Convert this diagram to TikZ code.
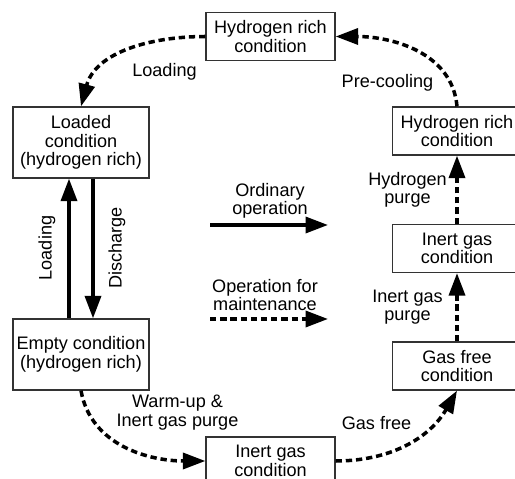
\documentclass[tikz,border=0pt]{standalone}
\usepackage{fontspec}
\setmainfont{Liberation Sans}
\usetikzlibrary{arrows.meta}

\tikzset{
  cond/.style={draw=black!80, line width=0.7pt, align=center, inner sep=2pt,
    minimum width=2.58cm, minimum height=0.96cm},
  ordinary/.style={line width=2pt, -{Triangle[length=0.45cm,width=0.32cm]}},
  maint/.style={ordinary, dash pattern=on 3.6pt off 2.2pt}
}

\begin{document}
\begin{tikzpicture}[font=\fontsize{10.3}{10.6}\selectfont]
	\useasboundingbox (0,0) rectangle (10.3,9.58);

	\node[cond] (top) at (5.41,8.85) {Hydrogen rich\\condition};
	\node[cond, minimum width=2.72cm, minimum height=1.42cm] (loaded) at (1.62,6.73) {Loaded\\condition\\(hydrogen rich)};
	\node[cond, minimum width=2.72cm, minimum height=1.42cm] (empty) at (1.62,2.49) {Empty condition\\(hydrogen rich)};
	\node[cond] (inert) at (5.41,0.36) {Inert gas\\condition};
	\node[cond] (hrich) at (9.14,6.96) {Hydrogen rich\\condition};
	\node[cond] (igas) at (9.14,4.61) {Inert gas\\condition};
	\node[cond] (gfree) at (9.14,2.26) {Gas free\\condition};

	\draw[ordinary] ([xshift=-0.24cm]empty.north) -- ([xshift=-0.24cm]loaded.south);
	\draw[ordinary] ([xshift=0.24cm]loaded.south) -- ([xshift=0.24cm]empty.north);
	\node[rotate=90] (lload) at (0.94,4.62) {Loading};
	\node[rotate=90] (ldis) at (2.34,4.62) {Discharge};

	\draw[maint] (top.west) to[out=180,in=75] (loaded.north);
	\draw[maint] (hrich.north) to[out=95,in=0] (top.east);
	\draw[maint] (empty.south) to[out=-80,in=180] (inert.west);
	\draw[maint] (inert.east) to[out=0,in=-120] (gfree.south);
	\draw[maint] (gfree.north) -- (igas.south);
	\draw[maint] (igas.north) -- (hrich.south);

	\node (lloading) at (3.29,8.14) {Loading};
	\node (lprecool) at (7.75,7.92) {Pre-cooling};
	\node[align=center] (lhpurge) at (8.15,5.78) {Hydrogen\\purge};
	\node[align=center] (lipurge) at (8.15,3.44) {Inert gas\\purge};
	\node (lgasfree) at (7.53,1.12) {Gas free};
	\node[align=center] (lwarm) at (3.55,1.33) {Warm-up \&\\Inert gas purge};

	\coordinate (oa) at (4.2,5.08);
	\coordinate (ob) at (6.56,5.08);
	\draw[ordinary] (oa) -- (ob);
	\node[align=center] (lord) at (5.4,5.56) {Ordinary\\operation};

	\coordinate (ma) at (4.2,3.2);
	\coordinate (mb) at (6.56,3.2);
	\draw[maint] (ma) -- (mb);
	\node[align=center] (lmaint) at (5.3,3.68) {Operation for\\maintenance};
\end{tikzpicture}
\end{document}
